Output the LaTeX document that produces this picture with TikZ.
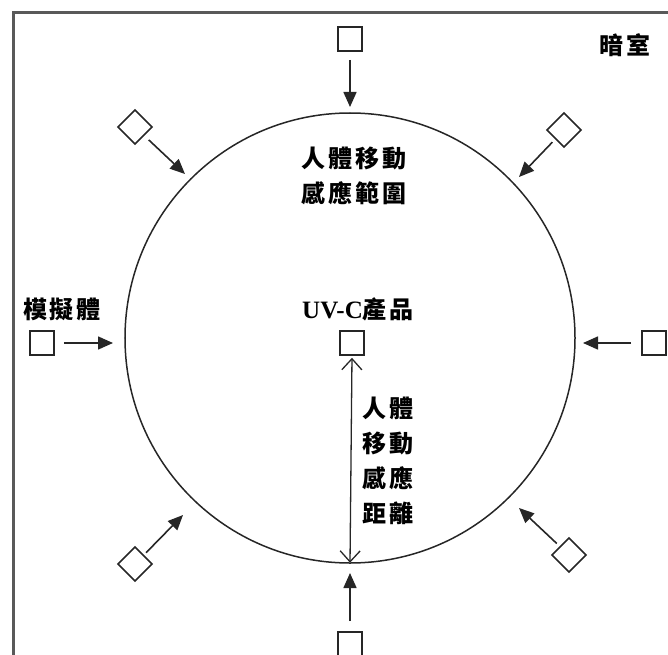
\documentclass[tikz,border=0pt]{standalone}
\usepackage{fontspec}
\setmainfont{Liberation Serif}
\newfontfamily\cjk[LetterSpace=12]{Noto Sans CJK TC}
\usetikzlibrary{arrows.meta}
\begin{document}
\begin{tikzpicture}[x=1bp,y=-1bp,
  sq/.style={draw=black!85, line width=1.6bp, minimum size=24bp, inner sep=0pt},
  dm/.style={sq, rotate=45},
  arr/.style={-{Triangle[length=15bp,width=13bp]}, line width=1.6bp, draw=black!85},
  lbl/.style={font=\cjk\bfseries\fontsize{24bp}{35bp}\selectfont, inner sep=0pt},
]
\useasboundingbox (0,0) rectangle (668,655);
\begin{scope}
\clip (0,0) rectangle (668,655);
\draw[line width=3bp, black!65] (13,700) -- (13,13) -- (700,13);
\end{scope}
% range circle
\node[draw=black!85, line width=1.5bp, circle, minimum size=450bp, inner sep=0pt] (range) at (350,338) {};
% squares
\node[sq] (top) at (350,39) {};
\node[sq] (bot) at (350,644) {};
\node[sq] (left) at (42,343) {};
\node[sq] (right) at (654,343) {};
\node[sq] (uvc) at (352,343) {};
% diamonds
\node[dm] (ul) at (135,127) {};
\node[dm] (ur) at (564,130) {};
\node[dm] (ll) at (135,564) {};
\node[dm] (lr) at (569,555) {};
% arrow targets
\coordinate (topT) at (350,107);
\coordinate (botT) at (350,573);
\coordinate (leftT) at (113,343);
\coordinate (rightT) at (583,343);
\coordinate (ulT) at (185,174);
\coordinate (urT) at (519,177);
\coordinate (llT) at (183,515);
\coordinate (lrT) at (519,508);
\draw[arr, shorten <=8bp] (top) -- (topT);
\draw[arr, shorten <=10bp] (bot) -- (botT);
\draw[arr, shorten <=9bp] (left) -- (leftT);
\draw[arr, shorten <=10bp] (right) -- (rightT);
\draw[arr, shorten <=6bp] (ul) -- (ulT);
\draw[arr, shorten <=4bp] (ur) -- (urT);
\draw[arr, shorten <=3bp] (ll) -- (llT);
\draw[arr, shorten <=4bp] (lr) -- (lrT);
% distance arrow
\draw[{Straight Barb[length=11bp,width=20bp]}-{Straight Barb[length=11bp,width=20bp]}, line width=1.3bp, draw=black!85, shorten <=2bp, shorten >=1bp] (uvc.south) -- (range.south);
% labels
\node[lbl, align=center] (title) at (354,176) {人體移動\\感應範圍};
\node[lbl, anchor=west, align=left] (dist) at (362,461) {人體\\移動\\感應\\距離};
\node[lbl] (mock) at (62,309) {模擬體};
\node[lbl] (dark) at (625,45) {暗室};
\node[lbl] (uvcl) at (358,309) {{\rmfamily\bfseries\fontsize{25bp}{28bp}\selectfont UV-C}產品};
\end{tikzpicture}
\end{document}
